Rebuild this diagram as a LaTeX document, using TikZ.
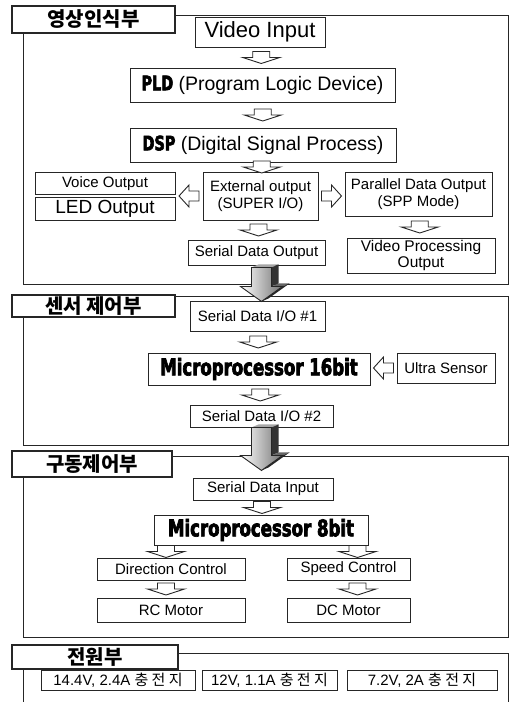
\documentclass[tikz,border=0pt]{standalone}
\usepackage{fontspec}
\setmainfont{Liberation Sans}
\newfontfamily\kr{Noto Sans CJK KR}
\newfontfamily\heavy{DejaVu Sans Bold}[FakeStretch=0.72,FakeBold=3]
\usetikzlibrary{calc}

\tikzset{
  frame/.style={draw=black!85, line width=0.9pt},
  tbox/.style 2 args={draw=black!85, line width=1.1pt, fill=white, inner sep=0pt,
    minimum width=#1pt, minimum height=#2pt, font=\kr\bfseries\fontsize{20}{22}\selectfont},
  bx/.style 2 args={draw=black!85, line width=0.9pt, fill=white, inner sep=0pt,
    minimum width=#1pt, minimum height=#2pt, font=\fontsize{15}{16.5}\selectfont},
  two/.style={align=center},
  harrow/.style={draw=black!85, line width=0.9pt, fill=white, line join=miter},
  % small hollow block arrows
  pics/dn/.style={code={
    \draw[harrow] (-8.5,-6) -- (8.5,-6) -- (8.5,0) -- (18.5,0) -- (0,6) -- (-18.5,0) -- (-8.5,0) -- cycle;}},
  pics/rt/.style={code={
    \draw[harrow] (-10,-5) -- (0,-5) -- (0,-11) -- (10,0) -- (0,11) -- (0,5) -- (-10,5) -- cycle;}},
  pics/lt/.style={code={
    \draw[harrow] (10,-5) -- (0,-5) -- (0,-11) -- (-10,0) -- (0,11) -- (0,5) -- (10,5) -- cycle;}},
  % large solid down arrow between sections
  pics/bigdown/.style={code={
    \fill[black!35] (-10,0) -- (10,0) -- (17,-3) -- (-3,-3) -- cycle;
    \fill[black!80] (10,0) -- (17,-3) -- (17,#1-3) -- (10,#1) -- cycle;
    \fill[black!60] (10,#1) -- (17,#1-3) -- (28,#1-3) -- (21,#1) -- cycle;
    \fill[black!85] (21,#1) -- (28,#1-3) -- (7,#1+12) -- (0,#1+15) -- cycle;
    \draw[black!85, line width=0.9pt, left color=white, right color=black!55]
      (-10,0) -- (10,0) -- (10,#1) -- (21,#1) -- (0,#1+15) -- (-21,#1) -- (-10,#1) -- cycle;}},
}

\begin{document}
\begin{tikzpicture}[x=1pt,y=-1pt]
\useasboundingbox (0,0) rectangle (510,702);
\fill[white] (0,0) rectangle (510,702);

% section frames
\draw[frame] (23,15) rectangle (508,284);
\draw[frame] (23,296) rectangle (508,445);
\draw[frame] (23,456) rectangle (508,637);
\draw[frame] (23,702) -- (23,653) -- (508,653) -- (508,702);

% section titles
\node[tbox={163}{27}] (t1) at (93.5,19.5) {영상인식부};
\node[tbox={163}{22}] (t2) at (93.5,306) {센서 제어부};
\node[tbox={160}{26}] (t3) at (92,464) {구동제어부};
\node[tbox={166}{24}] (t4) at (95,657) {전원부};

% image recognition section
\node[bx={130}{30}, font=\fontsize{22}{24}\selectfont] (vin) at (260,32) {Video Input};
\node[bx={265}{34}, font=\fontsize{19.5}{22}\selectfont] (pld) at (262.5,85)
  {{\heavy\fontsize{20}{22}\selectfont PLD} (Program Logic Device)};
\node[bx={266}{34}, font=\fontsize{19.5}{22}\selectfont] (dsp) at (263,145)
  {{\heavy\fontsize{20}{22}\selectfont DSP} (Digital Signal Process)};
\node[bx={140}{22}] (voice) at (105,183.5) {Voice Output};
\node[bx={140}{23}, font=\fontsize{19}{21}\selectfont] (led) at (105,208.5) {LED Output};
\node[bx={115}{48}, two] (ext) at (260.5,196) {External output\\(SUPER I/O)};
\node[bx={147}{44}, two] (par) at (418.5,194) {Parallel Data Output\\(SPP Mode)};
\node[bx={137}{25}] (sdo) at (256.5,252.5) {Serial Data Output};
\node[bx={148}{35}, two, font=\fontsize{15.5}{16.5}\selectfont] (vpo) at (421,255.5) {Video Processing\\Output};

% sensor control section
\node[bx={135}{30}] (io1) at (257.5,316) {Serial Data I/O \#1};
\node[bx={222}{32}] (mp16) at (259,369) {\heavy\fontsize{23}{25}\selectfont Microprocessor 16bit};
\node[bx={98}{30}] (us) at (446,368) {Ultra Sensor};
\node[bx={143}{22}] (io2) at (261.5,416) {Serial Data I/O \#2};

% drive control section
\node[bx={140}{22}] (sdi) at (263,489) {Serial Data Input};
\node[bx={214}{30}] (mp8) at (261,530) {\heavy\fontsize{23}{25}\selectfont Microprocessor 8bit};
\node[bx={148}{22}] (dir) at (171,569) {Direction Control};
\node[bx={123}{22}] (spd) at (348.5,569) {Speed Control};
\node[bx={148}{24}] (rc) at (171,610) {RC Motor};
\node[bx={123}{24}] (dc) at (348.5,610) {DC Motor};

% power section
\node[bx={154}{20}] (b1) at (118,680) {14.4V, 2.4A {\kr 충 전 지}};
\node[bx={135}{20}] (b2) at (269.5,680) {12V, 1.1A {\kr 충 전 지}};
\node[bx={150}{20}] (b3) at (422,680) {7.2V, 2A {\kr 충 전 지}};

% flow arrows
\pic at ($(vin.south)!0.5!(pld.north)$) {dn};
\pic at ($(pld.south)!0.5!(dsp.north)$) {dn};
\pic at ($(dsp.south)!0.5!(ext.north)$) {dn};
\pic at ($(ext.south)!0.5!(sdo.north)$) {dn};
\pic at ($(par.south)!0.5!(vpo.north)$) {dn};
\pic at ($(ext.west)!0.5!(ext.west -| led.east)$) {lt};
\pic at ($(ext.east)!0.5!(ext.east -| par.west)$) {rt};
\pic at ($(io1.south)!0.5!(mp16.north)$) {dn};
\pic at ($(mp16.south)!0.5!(io2.north)$) {dn};
\pic at ($(us.west)!0.5!(us.west -| mp16.east)$) {lt};
\pic at ($(sdi.south)!0.5!(mp8.north)$) {dn};
\pic at ($(dir.north)!0.5!(dir.north |- mp8.south)+(-5,0)$) {dn};
\pic at ($(spd.north)!0.5!(spd.north |- mp8.south)+(9,0)$) {dn};
\pic at ($(dir.south)!0.5!(rc.north)+(-5,0)$) {dn};
\pic at ($(spd.south)!0.5!(dc.north)+(9,0)$) {dn};

% arrows between sections
\pic at ($(sdo.south)+(5,2)$) {bigdown=19};
\pic at ($(io2.south)+(0,0)$) {bigdown=28};
\end{tikzpicture}
\end{document}
